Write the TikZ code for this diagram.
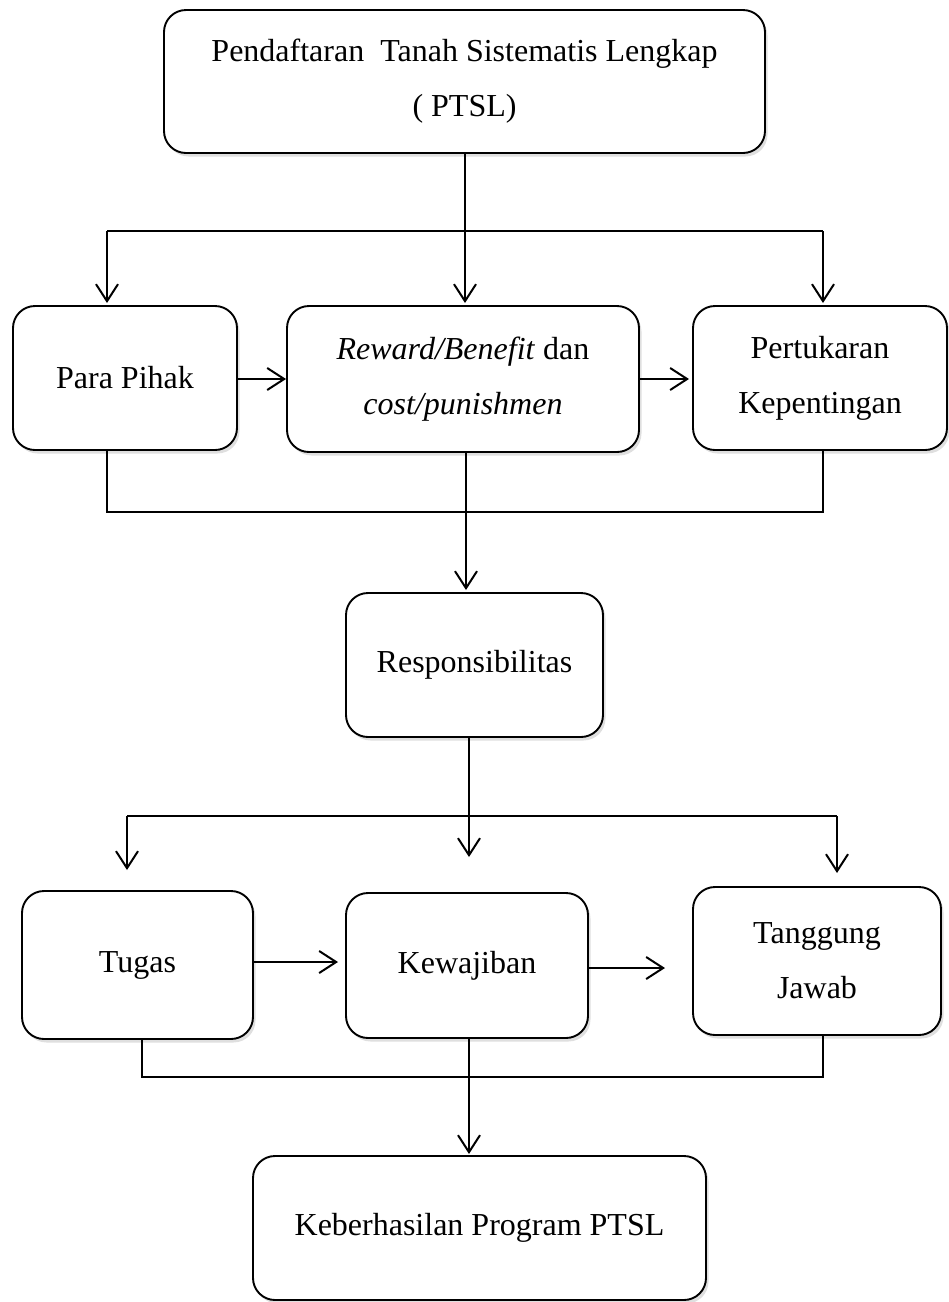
\documentclass[tikz,border=0pt]{standalone}
\usepackage{fontspec}
\setmainfont{Liberation Serif}
\usetikzlibrary{arrows.meta,shadows}
\begin{document}
\begin{tikzpicture}[x=1pt,y=-1pt,
  box/.style={draw=black, line width=1.9pt, rounded corners=22pt, fill=white,
    align=center, inner sep=0pt,
    font=\fontsize{32}{55}\selectfont,
    drop shadow={opacity=0.25, shadow xshift=2.5pt, shadow yshift=-3.5pt}},
  ln/.style={line width=2pt},
  arr/.style={line width=2pt, -{Straight Barb[length=17pt,width=22pt,line width=2pt]}}
]
\useasboundingbox (0,0) rectangle (949,1302);

\node[box, minimum width=601pt, minimum height=143pt] (top) at (464.5,81.5)
  {Pendaftaran\ \ Tanah Sistematis Lengkap\\( PTSL)};
\node[box, minimum width=224pt, minimum height=144pt] (para) at (125,378) {Para Pihak};
\node[box, minimum width=352pt, minimum height=146pt] (reward) at (463,379)
  {\textit{Reward/Benefit} dan\\\textit{cost/punishmen}};
\node[box, minimum width=254pt, minimum height=144pt] (pert) at (820,378)
  {Pertukaran\\Kepentingan};
\node[box, minimum width=257pt, minimum height=144pt] (resp) at (474.5,665) {Responsibilitas};
\node[box, minimum width=231pt, minimum height=148pt] (tugas) at (137.5,965) {Tugas};
\node[box, minimum width=242pt, minimum height=145pt] (kew) at (467,965.5) {Kewajiban};
\node[box, minimum width=248pt, minimum height=148pt] (tang) at (817,961) {Tanggung\\Jawab};
\node[box, minimum width=453pt, minimum height=144pt] (keb) at (479.5,1228)
  {Keberhasilan Program PTSL};

% upper fan-out
\coordinate (t1) at (465,153);
\coordinate (j1l) at (107,231);
\coordinate (j1r) at (823,231);
\draw[arr] (t1) -- (465,303);
\draw[ln] (j1l) -- (j1r);
\draw[arr] (j1l) -- (107,303);
\draw[arr] (j1r) -- (823,303);

% upper horizontal arrows
\draw[arr] (para.east |- 0,379) -- (reward.west |- 0,379);
\draw[arr] (reward.east |- 0,379) -- (689,379);

% upper join
\coordinate (u1) at (107,450);
\coordinate (u2) at (823,450);
\draw[ln] (u1) -- (107,512) -- (823,512) -- (u2);
\coordinate (r1) at (466,452);
\draw[arr] (r1) -- (466,590);

% lower fan-out
\coordinate (s1) at (469,737);
\coordinate (j2l) at (127,816);
\coordinate (j2r) at (837,816);
\draw[arr] (s1) -- (469,857);
\draw[ln] (j2l) -- (j2r);
\draw[arr] (j2l) -- (127,870);
\draw[arr] (j2r) -- (837,873);

% lower horizontal arrows
\draw[arr] (tugas.east |- 0,962) -- (338,962);
\draw[arr] (kew.east |- 0,968) -- (665,968);

% lower join
\coordinate (v1) at (142,1039);
\coordinate (v2) at (823,1035);
\draw[ln] (v1) -- (142,1077) -- (823,1077) -- (v2);
\coordinate (k1) at (469,1038);
\draw[arr] (k1) -- (469,1154);
\end{tikzpicture}
\end{document}
